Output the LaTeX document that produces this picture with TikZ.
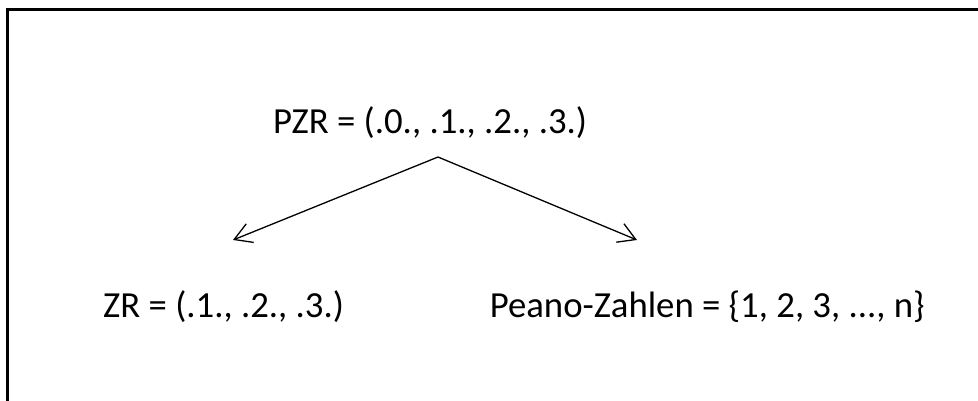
\documentclass[tikz,border=0pt]{standalone}
\usepackage{fontspec}
\setmainfont{Carlito}
\usetikzlibrary{arrows.meta}
\tikzset{
  lbl/.style={anchor=base west, inner sep=0pt, font=\fontsize{36.75pt}{44pt}\selectfont\frenchspacing},
  conn/.style={line width=1.3pt, -{Straight Barb[length=17pt,width=20pt,line width=1.3pt]}},
}
\begin{document}
\begin{tikzpicture}[x=1pt,y=-1pt]
\useasboundingbox (0,0) rectangle (978,400);
\draw[line width=3pt] (7.5,402) -- (7.5,9.5) -- (980,9.5);
\node[lbl] (pzr) at (273,133) {PZR = (.0., .1., .2., .3.)};
\node[lbl] (zr) at (103,317) {ZR = (.1., .2., .3.)};
\node[lbl, anchor=base east] (peano) at (925,317) {Peano-Zahlen = \{1, 2, 3, ..., n\}};
\coordinate (apex) at (438,157);
\coordinate (ltip) at (233,240);
\coordinate (rtip) at (637,240);
\draw[conn] (apex) -- (ltip);
\draw[conn] (apex) -- (rtip);
\end{tikzpicture}
\end{document}
